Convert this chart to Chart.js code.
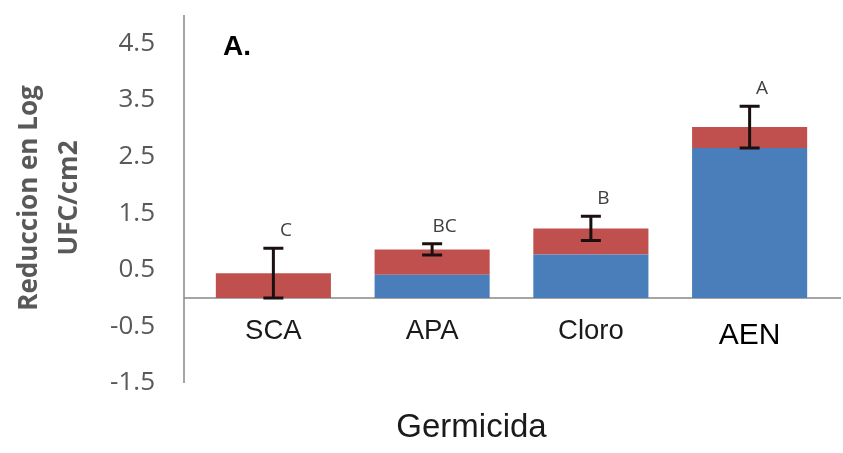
<!DOCTYPE html>
<html>
<head>
<meta charset="utf-8">
<script src="https://cdn.jsdelivr.net/npm/chart.js@4.4.0/dist/chart.umd.min.js"></script>
<style>
  html, body { margin: 0; padding: 0; background: #fff; }
  #wrap { width: 843px; height: 453px; position: relative; }
</style>
</head>
<body>
<div id="wrap"><canvas id="chart"></canvas></div>
<script>
// data
const germicides = ["SCA", "APA", "Cloro", "AEN"];
const blueValues = [0, 0.41, 0.77, 2.65];
const redValues = [0.44, 0.45, 0.46, 0.37];
const errorValues = [0.44, 0.10, 0.215, 0.37];
const groupLetters = ["C", "BC", "B", "A"];
const yTicks = [-1.5, -0.5, 0.5, 1.5, 2.5, 3.5, 4.5];

const BLUE = "#4a7ebb";
const RED = "#c0504d";
const AXIS_GREY = "#888888";

// axis lines, error bars, letters and titles
const decorPlugin = {
  id: "decor",
  beforeDatasetsDraw(chart) {
    const ctx = chart.ctx;
    const area = chart.chartArea;
    const zeroY = chart.scales.y.getPixelForValue(0);
    const axisX = area.left - 10;
    ctx.save();
    ctx.strokeStyle = AXIS_GREY;
    ctx.lineWidth = 1.5;
    ctx.beginPath();
    ctx.moveTo(axisX, area.top);
    ctx.lineTo(axisX, area.bottom);
    ctx.moveTo(axisX, zeroY);
    ctx.lineTo(chart.width - 2, zeroY);
    ctx.stroke();
    ctx.restore();
  },
  afterDatasetsDraw(chart) {
    const ctx = chart.ctx;
    const xs = chart.scales.x;
    const ys = chart.scales.y;
    ctx.save();
    germicides.forEach((g, i) => {
      const total = blueValues[i] + redValues[i];
      const x = xs.getPixelForValue(i);
      const top = ys.getPixelForValue(total + errorValues[i]);
      const bottom = ys.getPixelForValue(total - errorValues[i]);
      ctx.strokeStyle = "#1a1010";
      ctx.lineWidth = 3;
      ctx.beginPath();
      ctx.moveTo(x, top);
      ctx.lineTo(x, bottom);
      ctx.moveTo(x - 10, top);
      ctx.lineTo(x + 10, top);
      ctx.moveTo(x - 10, bottom);
      ctx.lineTo(x + 10, bottom);
      ctx.stroke();

      ctx.fillStyle = "#404040";
      ctx.font = "19px 'Open Sans'";
      ctx.textAlign = "center";
      ctx.textBaseline = "middle";
      ctx.fillText(groupLetters[i], x + 12.5, top - 17.5);
    });

    // y title
    ctx.fillStyle = "#595959";
    ctx.font = "bold 26px 'Open Sans'";
    ctx.textAlign = "center";
    ctx.textBaseline = "middle";
    ctx.translate(30, 198);
    ctx.rotate(-Math.PI / 2);
    ctx.fillText("Reduccion en Log", 0, 0);
    ctx.fillText("UFC/cm2", 0, 40);
    ctx.restore();

    ctx.save();
    ctx.fillStyle = "#000";
    ctx.font = "bold 28px 'Liberation Sans'";
    ctx.textAlign = "left";
    ctx.textBaseline = "alphabetic";
    ctx.fillText("A.", 223, 55);

    ctx.fillStyle = "#1a1a1a";
    ctx.font = "33px 'Liberation Sans'";
    ctx.textAlign = "center";
    ctx.fillText("Germicida", 471.5, 437);
    ctx.restore();
  }
};

new Chart(document.getElementById("chart"), {
  type: "bar",
  data: {
    labels: germicides,
    datasets: [
      { label: "base", data: blueValues, backgroundColor: BLUE, borderWidth: 0 },
      { label: "top", data: redValues, backgroundColor: RED, borderWidth: 0 },
    ],
  },
  options: {
    responsive: true,
    maintainAspectRatio: false,
    animation: false,
    layout: { padding: { top: 15, right: 14, left: 0, bottom: 0 } },
    datasets: { bar: { categoryPercentage: 1, barPercentage: 0.725 } },
    plugins: { legend: { display: false }, tooltip: { enabled: false } },
    scales: {
      x: {
        stacked: true,
        grid: { display: false, drawTicks: false },
        border: { display: false },
        afterFit: (scale) => {
          scale.height = 70;
          scale.paddingLeft = 0;
          scale.paddingRight = 0;
        },
        ticks: {
          // mirrored so the labels can sit just under the zero line
          mirror: true,
          autoSkip: false,
          maxRotation: 0,
          padding: 35,
          font: (c) => c.index === 3
            ? { family: "'Liberation Sans'", size: 30, lineHeight: 0.85 }
            : { family: "'Liberation Sans'", size: 27.5 },
          color: (c) => c.index === 3 ? "#000000" : "#1a1a1a",
        },
      },
      y: {
        stacked: true,
        min: -1.5,
        max: 5,
        grid: { display: false, drawTicks: false },
        border: { display: false },
        afterFit: (scale) => {
          scale.width = 194;
          scale.paddingTop = 0;
          scale.paddingBottom = 0;
        },
        afterBuildTicks: (scale) => { scale.ticks = yTicks.map((v) => ({ value: v })); },
        ticks: {
          padding: 39,
          color: "#595959",
          font: { family: "'Open Sans'", size: 26 },
          callback: (v) => Number(v).toFixed(1),
        },
      },
    },
  },
  plugins: [decorPlugin],
});
</script>
</body>
</html>
